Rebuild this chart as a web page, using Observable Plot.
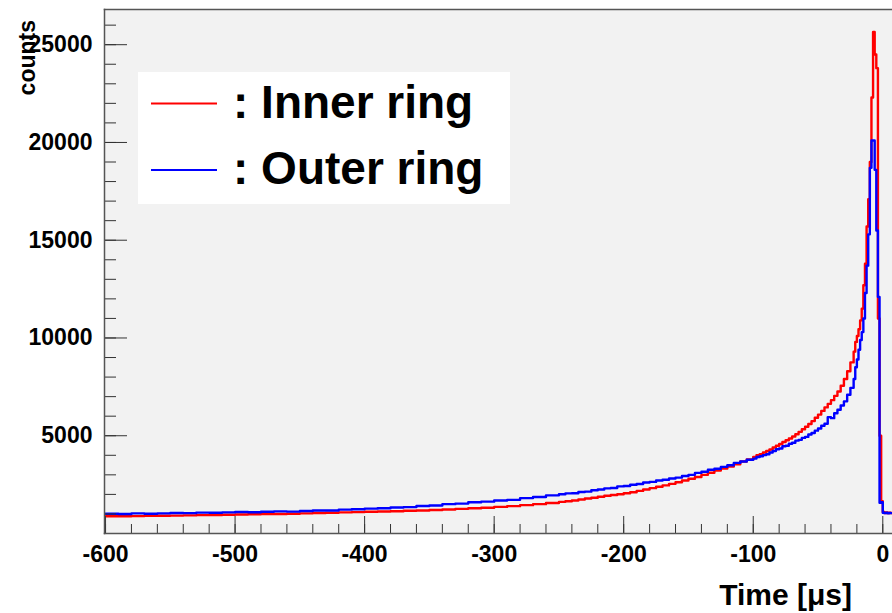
<!DOCTYPE html>
<html>
<head>
<meta charset="utf-8">
<script src="https://cdn.jsdelivr.net/npm/d3@7"></script>
<script src="https://cdn.jsdelivr.net/npm/@observablehq/plot@0.6"></script>
<style>
  html, body { margin: 0; padding: 0; background: white; }
  svg { display: block; }
</style>
</head>
<body>
<script>
// ---- Data ----
// Bin left edges (µs) in regions of different bin width
const farStart  = d3.range(-600, -250, 10);     // 35 bins
const midStart  = d3.range(-250, -100, 5);      // 30 bins
const fineStart = d3.range(-100, -22.5, 2.5);   // 31 bins
const peakStart = d3.range(-22.5, 7.5, 1.25);   // 24 bins
const lastEdge = 7.5;

const innerFar = [880, 885, 890, 900, 905, 915, 925, 940, 950, 960, 975, 985, 995, 1000, 1010, 1030, 1045, 1060, 1080, 1095,
  1110, 1125, 1140, 1160, 1180, 1205, 1230, 1260, 1290, 1320, 1360, 1400, 1450, 1500, 1560];
const outerFar = [1010, 1000, 1030, 1010, 1030, 1050, 1040, 1070, 1060, 1080, 1100, 1090, 1110, 1130, 1120, 1150, 1180, 1180, 1220, 1240,
  1270, 1290, 1330, 1350, 1410, 1430, 1500, 1530, 1600, 1630, 1690, 1720, 1810, 1870, 1950];

const innerMid = [1620, 1650, 1690, 1740, 1790, 1830, 1880, 1930, 1970, 2010, 2060, 2110, 2180, 2250, 2320, 2390, 2460, 2540, 2620, 2710,
  2800, 2890, 3000, 3110, 3220, 3320, 3430, 3540, 3680, 3790];
const outerMid = [2010, 2050, 2060, 2120, 2140, 2210, 2250, 2310, 2330, 2410, 2430, 2490, 2530, 2610, 2640, 2710, 2750, 2810, 2860, 2940,
  3000, 3100, 3160, 3260, 3310, 3410, 3490, 3610, 3680, 3770];

const innerFine = [3920, 4000, 4060, 4140, 4220, 4300, 4400, 4490, 4580, 4680, 4770, 4860, 4960, 5080, 5200, 5330, 5460, 5600, 5750, 5920,
  6080, 6270, 6450, 6630, 6820, 7040, 7260, 7560, 7900, 8300, 8750];
const outerFine = [3830, 3910, 3950, 4010, 4050, 4140, 4220, 4310, 4350, 4460, 4490, 4590, 4640, 4750, 4790, 4890, 4940, 5060, 5140, 5260,
  5370, 5510, 5610, 5950, 5900, 6150, 6330, 6550, 6760, 7100, 7450];

const innerPeak = [9300, 9800, 10100, 10450, 10900, 11500, 12700, 13800, 15700, 17100, 19000, 22300, 25650, 24500, 23800, 11000, 5000, 1650,
  1100, 1050, 1080, 1050, 1070, 1040];
const outerPeak = [7900, 8500, 8900, 9400, 9900, 10300, 11000, 12300, 13700, 15300, 18700, 20100, 20100, 18600, 15500, 12100, 1570, 1600,
  1060, 1040, 1070, 1030, 1050, 1040];

// Axis ticks
const xMajor = [-600, -500, -400, -300, -200, -100, 0];
const xMinor = d3.range(-600, 1, 20);
const yMajor = [5000, 10000, 15000, 20000, 25000];
const yMinor = d3.range(1000, 26001, 1000);

const seriesNames = [": Inner ring", ": Outer ring"];
const seriesColors = ["#ff0000", "#0000ff"];

// ---- Build tables ----
const starts = [...farStart, ...midStart, ...fineStart, ...peakStart];
function hist(vals) {
  const rows = starts.map((t, i) => ({t, v: vals[i]}));
  rows.push({t: lastEdge, v: vals[vals.length - 1]});
  return rows;
}
const inner = hist([...innerFar, ...innerMid, ...innerFine, ...innerPeak]);
const outer = hist([...outerFar, ...outerMid, ...outerFine, ...outerPeak]);

const W = 892, H = 613, mL = 104, mR = 0, mT = 9, mB = 80;
const frameW = W - mL - mR, frameH = H - mT - mB;
const font = "'Liberation Sans', Arial, Helvetica, sans-serif";

const svg = Plot.plot({
  width: W, height: H,
  marginLeft: mL, marginRight: mR, marginTop: mT, marginBottom: mB,
  x: {domain: [-600.8, 7.5]},
  y: {domain: [0, 26800]},
  style: {background: "white", fontFamily: font, color: "black"},
  marks: [
    Plot.frame({fill: "#f2f2f2"}),
    Plot.line(inner, {x: "t", y: "v", curve: "step-after", stroke: seriesColors[0], strokeWidth: 2.4, clip: true}),
    Plot.line(outer, {x: "t", y: "v", curve: "step-after", stroke: seriesColors[1], strokeWidth: 2.4, clip: true}),
    Plot.tickX(xMinor, {x: d => d, insetTop: frameH - 9, stroke: "#333", strokeWidth: 1}),
    Plot.tickX(xMajor, {x: d => d, insetTop: frameH - 17, stroke: "#333", strokeWidth: 1}),
    Plot.tickY(yMinor, {y: d => d, insetRight: frameW - 12, stroke: "#333", strokeWidth: 1}),
    Plot.tickY(yMajor, {y: d => d, insetRight: frameW - 23, stroke: "#333", strokeWidth: 1}),
    Plot.frame({anchor: "top", stroke: "#555", strokeWidth: 1.5}),
    Plot.frame({anchor: "left", stroke: "#555", strokeWidth: 1.5}),
    Plot.frame({anchor: "bottom", stroke: "#555", strokeWidth: 1.5}),
    Plot.axisX({ticks: xMajor, tickSize: 0, tickPadding: 12, tickFormat: d => String(d), label: null,
                fontSize: 23, fontWeight: "bold", fill: "black"}),
    Plot.axisY({ticks: yMajor, tickSize: 0, tickPadding: 12, tickFormat: d => String(d), label: null,
                fontSize: 23, fontWeight: "bold", fill: "black"})
  ]
});

const s = d3.select(svg);

// Axis titles
s.append("text")
  .attr("transform", "translate(35,20) rotate(-90)")
  .attr("text-anchor", "end")
  .attr("font-family", font).attr("font-weight", "bold").attr("font-size", 23)
  .attr("fill", "black")
  .text("counts");
s.append("text")
  .attr("x", 852).attr("y", 605)
  .attr("text-anchor", "end")
  .attr("font-family", font).attr("font-weight", "bold").attr("font-size", 30)
  .attr("fill", "black")
  .text("Time [\u03bcs]");

// Legend
const lg = s.append("g");
lg.append("rect").attr("x", 138).attr("y", 72).attr("width", 372).attr("height", 132).attr("fill", "white");
seriesNames.forEach((name, i) => {
  const yy = 103.5 + i * 66.5;
  lg.append("line").attr("x1", 151).attr("x2", 217).attr("y1", yy).attr("y2", yy)
    .attr("stroke", seriesColors[i]).attr("stroke-width", 2);
  lg.append("text").attr("x", 233).attr("y", yy + 14)
    .attr("text-anchor", "start")
    .attr("font-family", font).attr("font-weight", "bold").attr("font-size", 46)
    .attr("fill", "black").text(name);
});

document.body.appendChild(svg);
</script>
</body>
</html>
